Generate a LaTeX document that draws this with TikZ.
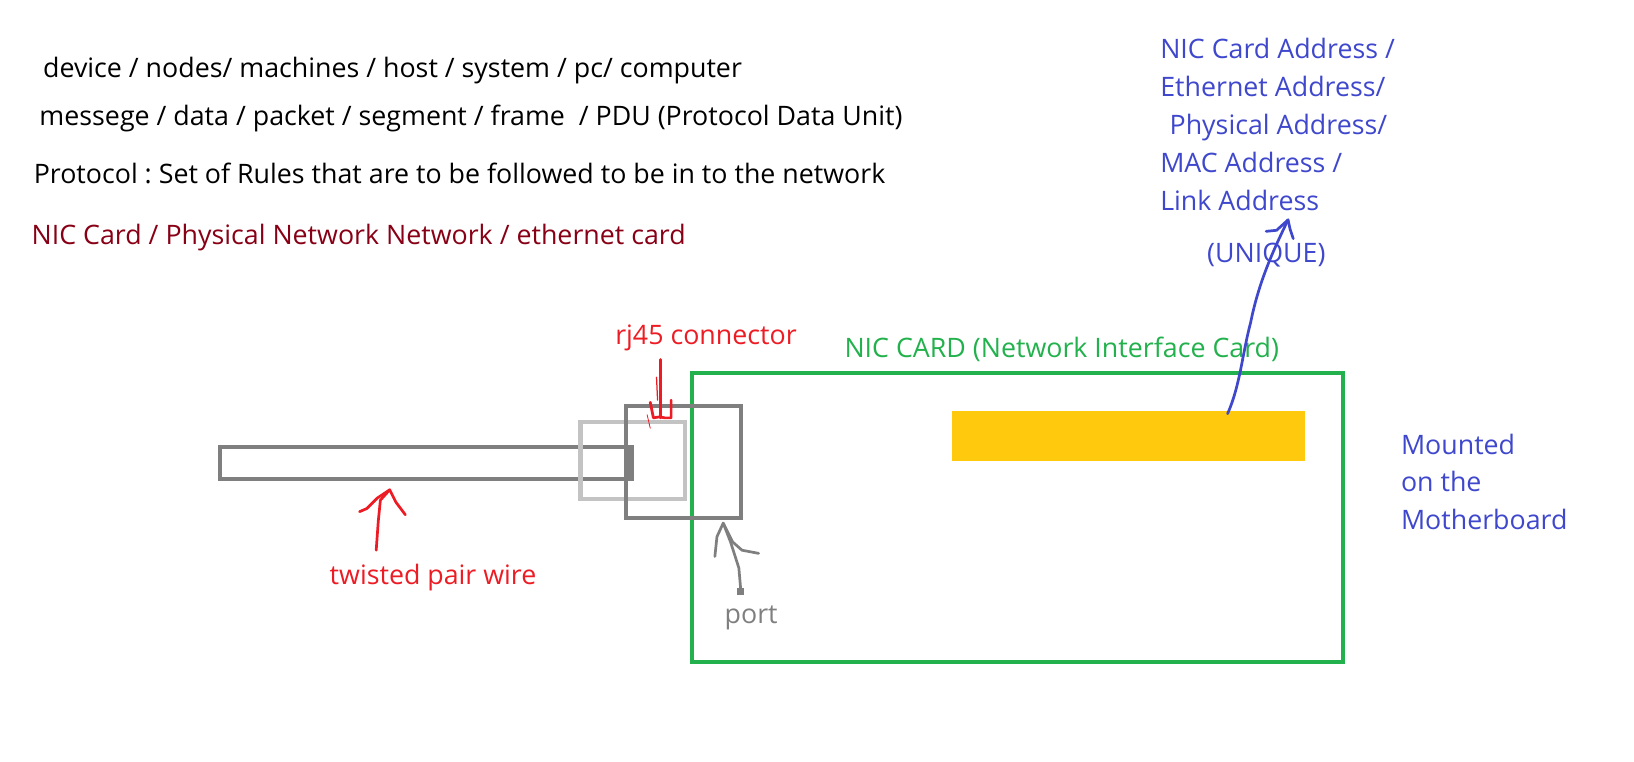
\documentclass[tikz,border=0pt]{standalone}
\usepackage{fontspec}
\setmainfont{Open Sans}
\usetikzlibrary{positioning}
\definecolor{paintred}{RGB}{237,28,36}
\definecolor{darkred}{RGB}{136,0,21}
\definecolor{paintgreen}{RGB}{34,177,76}
\definecolor{paintyellow}{RGB}{255,201,14}
\definecolor{paintblue}{RGB}{63,72,204}
\definecolor{darkgray}{RGB}{127,127,127}
\definecolor{lightgray}{RGB}{195,195,195}
\frenchspacing
\tikzset{
  label text/.style={anchor=base west, inner sep=0pt, font=\fontsize{12.85}{15}\selectfont},
  pen/.style={line width=1.3pt, line cap=round, line join=round},
  box line/.style={line width=2pt}
}
\begin{document}
\begin{tikzpicture}[x=0.5pt,y=0.5pt,yscale=-1,xscale=1]
        \useasboundingbox (0,0) rectangle (1568,731);

        % Text Node
        \node [label text] (devices) at (41,74) {device / nodes/ machines / host / system / pc/ computer};
        % Text Node
        \node [label text] (messages) at (37.5,120) {messege / data / packet / segment / frame \ / PDU (Protocol Data Unit)};
        % Text Node
        \node [label text] (protocol) at (32,176) {Protocol : Set of Rules that are to be followed to be in to the network};
        % Text Node
        \node [label text, text=darkred] (niccard) at (30,235) {NIC Card / Physical Network Network / ethernet card};

        % Text Node
        \node [label text, text=paintblue] (addr1) at (1113,56) {NIC Card Address /};
        \node [label text, text=paintblue] (addr2) at (1113,93) {Ethernet Address/};
        \node [label text, text=paintblue] (addr3) at (1122,129) {Physical Address/};
        \node [label text, text=paintblue] (addr4) at (1113,166) {MAC Address /};
        \node [label text, text=paintblue] (addr5) at (1113,202) {Link Address};
        \node [label text, text=paintblue] (unique) at (1158,252) {(UNIQUE)};

        % Text Node
        \node [label text, text=paintblue] (mount1) at (1344,436) {Mounted};
        \node [label text, text=paintblue] (mount2) at (1344,472) {on the};
        \node [label text, text=paintblue] (mount3) at (1344,508) {Motherboard};

        % Text Node
        \node [label text, text=paintgreen] (cardlabel) at (810,343) {NIC CARD (Network Interface Card)};
        \node [label text, text=paintred] (rjlabel) at (590,331) {rj45 connector};
        \node [label text, text=paintred] (wirelabel) at (316,561) {twisted pair wire};
        \node [label text, text=darkgray] (portlabel) at (695,598) {port};

        %Shape: Rectangle [card]
        \draw [box line, color=paintgreen] (664,358) rectangle (1289,635) ;
        %Shape: Rectangle [chip]
        \fill [paintyellow] (914,394) rectangle (1252,442) ;
        %Shape: Rectangle [wire]
        \draw [box line, color=darkgray] (211,429) rectangle (605,460) ;
        \fill [darkgray] (600,427) rectangle (608,462) ;
        %Shape: Rectangle [plug]
        \draw [box line, color=lightgray] (557,405) rectangle (657,479) ;
        %Shape: Rectangle [port]
        \draw [box line, color=darkgray] (601,390) rectangle (711,497) ;

        %Straight Lines [wire arrow]
        \coordinate (wiretail) at (361,528);
        \coordinate (wiretip) at (374,470);
        \draw [pen, color=paintred] (wiretail) -- (363,500) -- (365,480) -- (wiretip) ;
        \draw [pen, color=paintred] (345,491) -- (352,488) -- (362,478) -- (wiretip) -- (380,482) -- (389,494) ;

        %Straight Lines [rj45 arrow]
        \coordinate (rjtail) at (634,345);
        \coordinate (rjtip) at (634,401);
        \draw [pen, color=paintred] (rjtail) -- (rjtip) ;
        \draw [pen, color=paintred, line width=0.6pt] (630,362) -- (631,384) ;
        \draw [pen, color=paintred] (624,386) -- (627,401) -- (633,400) -- (638,401) -- (644,401) -- (644,384) ;
        \draw [pen, color=paintred, line width=0.4pt] (621,398) -- (624,411) ;

        %Straight Lines [port arrow]
        \coordinate (porttail) at (711,568);
        \coordinate (porttip) at (694,502);
        \draw [pen, color=darkgray] (porttail) -- (709,545) -- (701,520) -- (porttip) ;
        \draw [pen, color=darkgray] (686,534) -- (688,515) -- (porttip) -- (703,520) -- (712,528) -- (728,531) ;
        \fill [darkgray] (707,564) rectangle (714,571) ;

        %Straight Lines [address arrow]
        \coordinate (chiptop) at (1178,397);
        \coordinate (addrtip) at (1236,211);
        \draw [pen, color=paintblue] (chiptop) .. controls (1190,370) and (1192,340) .. (1200,310) .. controls (1208,270) and (1222,240) .. (addrtip) ;
        \draw [pen, color=paintblue] (1215,222) -- (1225,221) -- (addrtip) -- (1238,220) -- (1241,229) ;

        \end{tikzpicture}
\end{document}
